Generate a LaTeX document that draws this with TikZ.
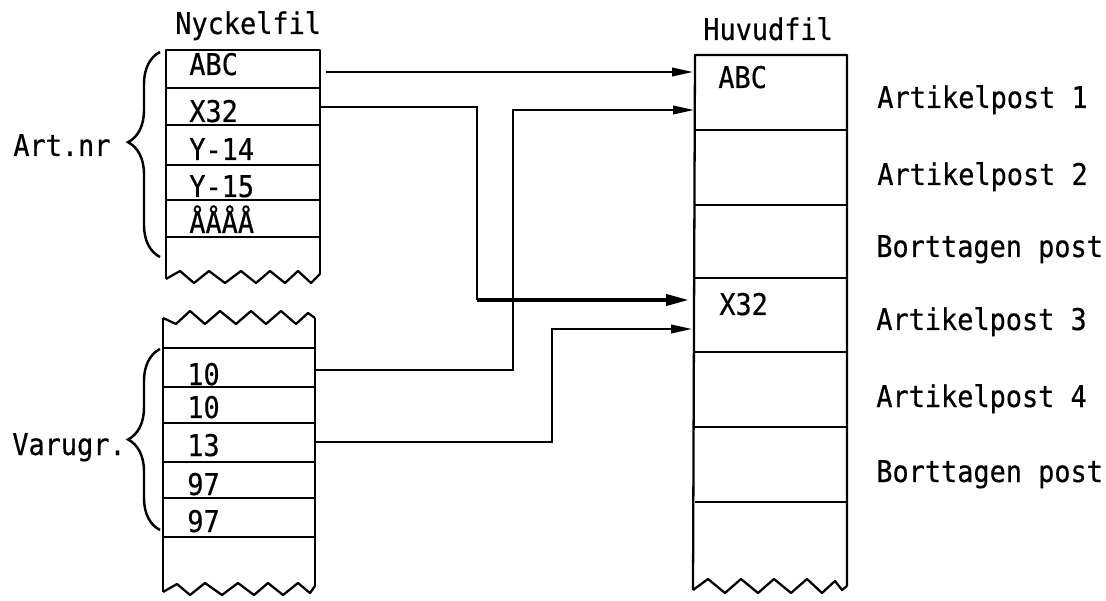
\documentclass[tikz,border=0pt]{standalone}
\usepackage{fontspec}
\usetikzlibrary{arrows.meta,decorations.pathreplacing}
\newfontfamily\tw[FakeStretch=0.9,FakeBold=0.5]{DejaVu Sans Mono}
\begin{document}
\begin{tikzpicture}[x=0.02cm,y=-0.02cm,
  lbl/.style={anchor=base west,inner sep=0pt,font=\tw\fontsize{17pt}{20pt}\selectfont},
  boxline/.style={line width=1.3pt,line join=round},
  conn/.style={line width=1.2pt,-{Triangle[length=0.42cm,width=0.17cm]}},
  connbold/.style={line width=2.2pt,-{Triangle[length=0.46cm,width=0.22cm]}},
  brc/.style={line width=1.4pt,decorate,decoration={brace,amplitude=0.64cm}}]
\useasboundingbox (0,0) rectangle (1106,601);

% ---------- titles ----------
\node[lbl] (tNyckel) at (175,34) {Nyckelfil};
\node[lbl] (tHuvud) at (703,40) {Huvudfil};

% ---------- Nyckelfil upper box ----------
\draw[boxline] (166,279) -- (166,50) -- (320,50) -- (320,274);
\draw[boxline] (166,279) -- (180,271) -- (194,283) -- (209,271) -- (225,283) -- (241,271)
  -- (256,283) -- (270,271) -- (285,283) -- (298,271) -- (311,283) -- (320,274);
\foreach \y in {88,125,165,200,237} \draw[boxline] (166,\y) -- (320,\y);
\node[lbl] (kABC) at (189,75) {ABC};
\node[lbl] (kX32) at (189,122) {X32};
\node[lbl] (kY14) at (189,160) {Y-14};
\node[lbl] (kY15) at (189,197) {Y-15};
\node[lbl] (kAAAA) at (189,233) {ÅÅÅÅ};

% ---------- Nyckelfil lower box ----------
\draw[boxline] (163,318) -- (163,592);
\draw[boxline] (315,318) -- (315,586);
\draw[boxline] (163,318) -- (176,324) -- (190,311) -- (205,324) -- (220,311) -- (236,324)
  -- (251,311) -- (266,324) -- (281,311) -- (296,324) -- (308,313) -- (315,318);
\draw[boxline] (163,592) -- (177,584) -- (190,595) -- (205,583) -- (222,595) -- (238,583)
  -- (254,595) -- (268,583) -- (283,595) -- (298,583) -- (310,593) -- (315,586);
\foreach \y in {348,387,423,462,498,537} \draw[boxline] (163,\y) -- (315,\y);
\node[lbl] (v1) at (187,385) {10};
\node[lbl] (v2) at (187,418) {10};
\node[lbl] (v3) at (187,456) {13};
\node[lbl] (v4) at (187,495) {97};
\node[lbl] (v5) at (187,532) {97};

% ---------- braces and their labels ----------
\draw[brc,decoration={aspect=0.56}] (160,257) -- (160,52);
\draw[brc,decoration={aspect=0.5}] (160,530) -- (160,349);
\node[lbl] (lArt) at (13,156) {Art.nr};
\node[lbl] (lVar) at (12,455) {Varugr.};

% ---------- Huvudfil ----------
\draw[boxline] (693,590) -- (695,55) -- (847,55) -- (847,586);
\draw[boxline] (693,590) -- (708,579) -- (725,593) -- (741,579) -- (758,593) -- (774,579)
  -- (791,593) -- (807,579) -- (822,593) -- (835,581) -- (842,590) -- (847,586);
\foreach \y in {130,205,278,352,427,502} \draw[boxline] (695,\y) -- (847,\y);
\node[lbl] (hABC) at (718,88) {ABC};
\node[lbl] (hX32) at (719,315) {X32};

\node[lbl] (p1) at (877,108) {Artikelpost 1};
\node[lbl] (p2) at (877,185) {Artikelpost 2};
\node[lbl] (p3) at (876,257) {Borttagen post};
\node[lbl] (p4) at (876,330) {Artikelpost 3};
\node[lbl] (p5) at (876,407) {Artikelpost 4};
\node[lbl] (p6) at (876,482) {Borttagen post};

% ---------- connector end points ----------
\coordinate (sABC) at (326,72);
\coordinate (eABC) at (693,72);
\coordinate (sX32) at (320,107);
\coordinate (eX32) at (689,300);
\coordinate (s10) at (316,370);
\coordinate (e10) at (694,110);
\coordinate (s13) at (316,442);
\coordinate (e13) at (692,329);

% ---------- connectors ----------
\draw[conn] (sABC) -- (eABC);
\draw[conn] (s10) -| (513,110) -- (e10);
\draw[conn] (s13) -| (552,329) -- (e13);
\draw[line width=1.2pt] (sX32) -| (477,300);
\draw[connbold] (477,300) -- (eX32);
\end{tikzpicture}
\end{document}
